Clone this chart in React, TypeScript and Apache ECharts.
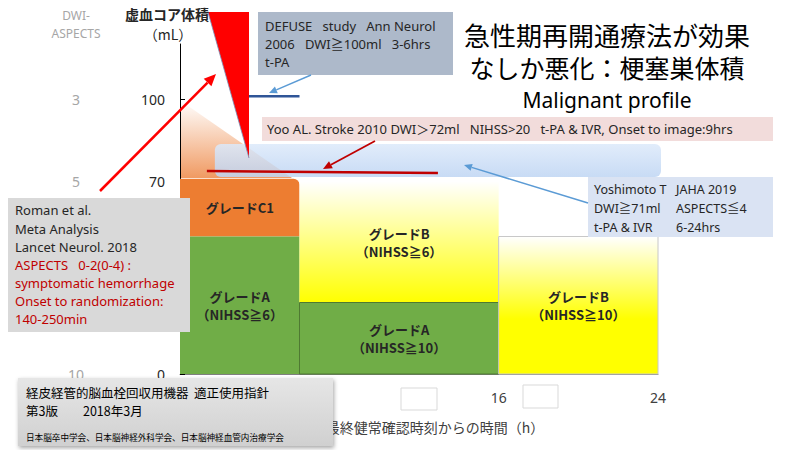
import React, { useEffect, useRef } from 'react';
import * as echarts from 'echarts';

// ---- data ----
const xTickValues = [16, 24];
const coreTickValues = [0, 70, 100];
const aspectsByCore: Record<number, string> = { 0: '10', 70: '5', 100: '3' };

const blockLabels = ['グレードC1', 'グレードA\n（NIHSS≧6）', 'グレードB\n（NIHSS≧6）', 'グレードA\n（NIHSS≧10）', 'グレードB\n（NIHSS≧10）'];
const blockStart = [0, 0, 6, 6, 16];
const blockEnd = [6, 6, 16, 16, 24];
const blockLow = [50, 0, 26, 0, 0];
const blockHigh = [71, 50, 70, 26, 50];
const blockGrade = ['C1', 'A', 'B', 'A', 'B'];

const defuseLine = [[3, 101], [6, 101]];
const yooLine = [[1.35, 73.8], [12.95, 73.1]];
const yoshimotoRegion = [[1.75, 24.15, 71.6, 83.6]];

const CJK = '"Noto Sans CJK JP", sans-serif';
const LAT = '"Noto Sans", "Noto Sans CJK JP", sans-serif';

function arrow(x1: number, y1: number, x2: number, y2: number, color: string, width: number, head: number) {
  const a = Math.atan2(y2 - y1, x2 - x1);
  const bx = x2 - head * Math.cos(a);
  const by = y2 - head * Math.sin(a);
  const hw = head * 0.45;
  const px = -Math.sin(a) * hw;
  const py = Math.cos(a) * hw;
  return [
    { type: 'line', z: 20, shape: { x1, y1, x2: bx, y2: by }, style: { stroke: color, lineWidth: width } },
    { type: 'polygon', z: 20, shape: { points: [[x2, y2], [bx + px, by + py], [bx - px, by - py]] }, style: { fill: color } },
  ];
}

function txt(x: number, y: number, text: string, font: string, fill = '#262626', align = 'left', z = 21) {
  return { type: 'text', z, x, y, style: { text, font, fill, align, verticalAlign: 'middle' } };
}

export default function App() {
  const ref = useRef<HTMLDivElement>(null);
  useEffect(() => {
    if (!ref.current) return;
    const chart = echarts.init(ref.current, null, { renderer: 'svg' });
    const blockData = blockStart.map((s, i) => [s, blockEnd[i], blockLow[i], blockHigh[i]]);

    const graphics: any[] = [
      // left headers
      { type: 'text', z: 21, x: 76, y: 15, style: { text: 'DWI-', font: `12px ${LAT}`, fill: '#a6a6a6', align: 'center', verticalAlign: 'middle' } },
      { type: 'text', z: 21, x: 76, y: 33, style: { text: 'ASPECTS', font: `12px ${LAT}`, fill: '#a6a6a6', align: 'center', verticalAlign: 'middle' } },
      { type: 'text', z: 19, x: 167, y: 14, style: { text: '虚血コア体積', font: `bold 14px ${CJK}`, fill: '#262626', align: 'center', verticalAlign: 'middle' } },
      { type: 'text', z: 19, x: 168, y: 34, style: { text: '（mL）', font: `14px ${CJK}`, fill: '#262626', align: 'center', verticalAlign: 'middle' } },
      // orange fade wedge
      {
        type: 'polygon', z: 1,
        shape: { points: [[181, 101], [181, 178], [292, 178]] },
        style: { fill: new echarts.graphic.LinearGradient(0, 0, 0, 1, [{ offset: 0, color: 'rgba(255,255,255,1)' }, { offset: 1, color: '#f09a62' }]) },
      },
      // red wedge
      { type: 'polygon', z: 18, shape: { points: [[208, 12], [249, 12], [249, 158]] }, style: { fill: '#ff0000' } },
      { type: 'line', z: 18, shape: { x1: 208, y1: 12, x2: 249, y2: 158 }, style: { stroke: '#7a8fb8', lineWidth: 0.8 } },
      // DEFUSE box
      { type: 'rect', z: 15, shape: { x: 258, y: 12, width: 195, height: 63 }, style: { fill: '#adb9ca' } },
      txt(265, 26, 'DEFUSE   study   Ann Neurol', `13px ${LAT}`),
      txt(265, 44, '2006   DWI≧100ml   3-6hrs', `13px ${LAT}`),
      txt(265, 62, 't-PA', `13px ${LAT}`),
      ...arrow(311, 75, 269, 93, '#5b9bd5', 1.5, 8),
      // title
      txt(607, 34, '急性期再開通療法が効果', `26px ${CJK}`, '#000000', 'center'),
      txt(607, 67, 'なしか悪化：梗塞巣体積', `25px ${CJK}`, '#000000', 'center'),
      txt(607, 100, 'Malignant profile', `21px ${LAT}`, '#000000', 'center'),
      // Yoo box
      { type: 'rect', z: 15, shape: { x: 262, y: 117, width: 511, height: 24 }, style: { fill: '#f2dcdb' } },
      txt(267, 129, 'Yoo AL. Stroke 2010 DWI＞72ml   NIHSS>20   t-PA & IVR, Onset to image:9hrs', `13px ${LAT}`),
      ...arrow(375, 141, 323, 169, '#c00000', 1.8, 9),
      // Yoshimoto box
      { type: 'rect', z: 15, shape: { x: 588, y: 177, width: 185, height: 60 }, style: { fill: '#dae3f3' } },
      txt(594, 189, 'Yoshimoto T', `12.5px ${LAT}`),
      txt(594, 208, 'DWI≧71ml', `12.5px ${LAT}`),
      txt(594, 227, 't-PA & IVR', `12.5px ${LAT}`),
      txt(676, 189, 'JAHA 2019', `12.5px ${LAT}`),
      txt(676, 208, 'ASPECTS≦4', `12.5px ${LAT}`),
      txt(676, 227, '6-24hrs', `12.5px ${LAT}`),
      ...arrow(588, 203, 464, 165, '#5b9bd5', 1.5, 8),
      // Roman box
      { type: 'rect', z: 15, shape: { x: 8, y: 198, width: 182, height: 134 }, style: { fill: '#d9d9d9' } },
      txt(15, 210, 'Roman et al.', `13px ${LAT}`, '#262626'),
      txt(15, 229, 'Meta Analysis', `13px ${LAT}`, '#262626'),
      txt(15, 247, 'Lancet Neurol. 2018', `13px ${LAT}`, '#262626'),
      txt(15, 265, 'ASPECTS   0-2(0-4) :', `13px ${LAT}`, '#c00000'),
      txt(15, 283, 'symptomatic hemorrhage', `13px ${LAT}`, '#c00000'),
      txt(15, 301, 'Onset to randomization:', `13px ${LAT}`, '#c00000'),
      txt(15, 319, '140-250min', `13px ${LAT}`, '#c00000'),
      // big red arrow
      ...arrow(100, 191, 216, 74, '#ff0000', 2.5, 12),
      // white patches on x axis
      { type: 'rect', z: 15, shape: { x: 401, y: 388, width: 36, height: 22 }, style: { fill: '#ffffff', stroke: '#d9d9d9', lineWidth: 1 } },
      { type: 'rect', z: 15, shape: { x: 523, y: 385, width: 35, height: 23 }, style: { fill: '#ffffff', stroke: '#d9d9d9', lineWidth: 1 } },
      // x axis title
      txt(435, 427, '最終健常確認時刻からの時間（h）', `14px ${CJK}`, '#404040', 'center', 14),
      // bottom reference box
      {
        type: 'rect', z: 16, shape: { x: 18, y: 378, width: 315, height: 68 },
        style: {
          fill: new echarts.graphic.LinearGradient(0, 0, 0, 1, [{ offset: 0, color: '#e6e6e6' }, { offset: 1, color: '#d0d0d0' }]),
          shadowBlur: 4, shadowColor: 'rgba(0,0,0,0.35)', shadowOffsetX: 1, shadowOffsetY: 2,
        },
      },
      txt(26, 392, '経皮経管的脳血栓回収用機器  適正使用指針', `12.5px ${CJK}`, '#000000', 'left', 22),
      txt(26, 410, '第3版　　2018年3月', `12.5px ${CJK}`, '#000000', 'left', 22),
      txt(26, 437, '日本脳卒中学会、日本脳神経外科学会、日本脳神経血管内治療学会', `8.6px ${CJK}`, '#000000', 'left', 22),
    ];

    chart.setOption({
      animation: false,
      backgroundColor: '#ffffff',
      grid: { left: 180, top: 44, width: 478, height: 330, containLabel: false },
      xAxis: {
        type: 'value', min: 0, max: 24,
        axisLine: { show: true, lineStyle: { color: '#7f7f7f', width: 1 } },
        axisTick: { show: false },
        splitLine: { show: false },
        axisLabel: { customValues: xTickValues, color: '#404040', fontSize: 14, fontFamily: 'Noto Sans', margin: 16 },
      },
      yAxis: [
        {
          type: 'value', min: 0, max: 120, position: 'left',
          axisLine: { show: true, lineStyle: { color: '#000000', width: 1 } },
          axisTick: { show: true, inside: true, length: 5, customValues: coreTickValues, lineStyle: { color: '#000000' } },
          splitLine: { show: false },
          axisLabel: { customValues: coreTickValues, color: '#262626', fontSize: 14, fontFamily: 'Noto Sans', margin: 15, padding: [0, 0, 6, 0] },
        },
        {
          type: 'value', min: 0, max: 120, position: 'left', offset: 96,
          axisLine: { show: false }, axisTick: { show: false }, splitLine: { show: false },
          axisLabel: {
            customValues: coreTickValues, color: '#a6a6a6', fontSize: 14, fontFamily: 'Noto Sans', margin: 8, align: 'center',
            padding: [0, 0, 6, 0],
            formatter: (v: number) => aspectsByCore[v] ?? '',
          },
        },
      ],
      series: [
        {
          type: 'custom', name: 'grades', z: 2,
          data: blockData,
          encode: { x: [0, 1], y: [2, 3] },
          renderItem: (params: any, api: any) => {
            const i = params.dataIndex;
            const p0 = api.coord([api.value(0), api.value(3)]);
            const p1 = api.coord([api.value(1), api.value(2)]);
            const x = p0[0], y = p0[1], w = p1[0] - p0[0], h = p1[1] - p0[1];
            const g = blockGrade[i];
            let fill: any;
            let r: any = 0;
            let stroke: any = null;
            if (g === 'C1') { fill = '#ed7d31'; r = [0, 6, 0, 0]; }
            else if (g === 'A') { fill = '#70ad47'; if (i === 3) stroke = '#4f7a32'; }
            else {
              fill = new echarts.graphic.LinearGradient(0, 0, 0, 1, i === 2
                ? [{ offset: 0, color: '#ffffff' }, { offset: 1, color: '#ffff00' }]
                : [{ offset: 0, color: '#ffffff' }, { offset: 0.6, color: '#ffff00' }, { offset: 1, color: '#ffff00' }]);
              if (i === 4) stroke = '#c8c8c8';
            }
            const lines = blockLabels[i].split('\n');
            const children: any[] = [
              { type: 'rect', shape: { x, y, width: w, height: h, r }, style: { fill, stroke, lineWidth: stroke ? 1 : 0 } },
            ];
            const cy = y + h / 2;
            lines.forEach((t, k) => {
              children.push({
                type: 'text', x: x + w / 2, y: cy + (k - (lines.length - 1) / 2) * 18,
                style: { text: t, font: `bold 13px ${CJK}`, fill: '#262626', align: 'center', verticalAlign: 'middle' },
              });
            });
            return { type: 'group', children };
          },
        },
        {
          type: 'custom', name: 'Yoshimoto', z: 3,
          data: yoshimotoRegion,
          encode: { x: [0, 1], y: [2, 3] },
          renderItem: (params: any, api: any) => {
            const p0 = api.coord([api.value(0), api.value(3)]);
            const p1 = api.coord([api.value(1), api.value(2)]);
            return {
              type: 'rect',
              shape: { x: p0[0], y: p0[1], width: p1[0] - p0[0], height: p1[1] - p0[1], r: 6 },
              style: {
                fill: new echarts.graphic.LinearGradient(0, 0, 0, 1, [{ offset: 0, color: '#dce9fa' }, { offset: 1, color: '#bed5f3' }]),
                opacity: 0.85,
              },
            };
          },
        },
        {
          type: 'line', name: 'DEFUSE', z: 4, data: defuseLine, symbol: 'none',
          lineStyle: { color: '#2f5597', width: 2.5 },
        },
        {
          type: 'line', name: 'Yoo', z: 4, data: yooLine, symbol: 'none',
          lineStyle: { color: '#c00000', width: 2.5 },
        },
      ],
      graphic: { elements: graphics },
    });
    return () => chart.dispose();
  }, []);
  return <div ref={ref} style={{ width: 800, height: 450, position: 'absolute', left: 0, top: 0 }} />;
}
